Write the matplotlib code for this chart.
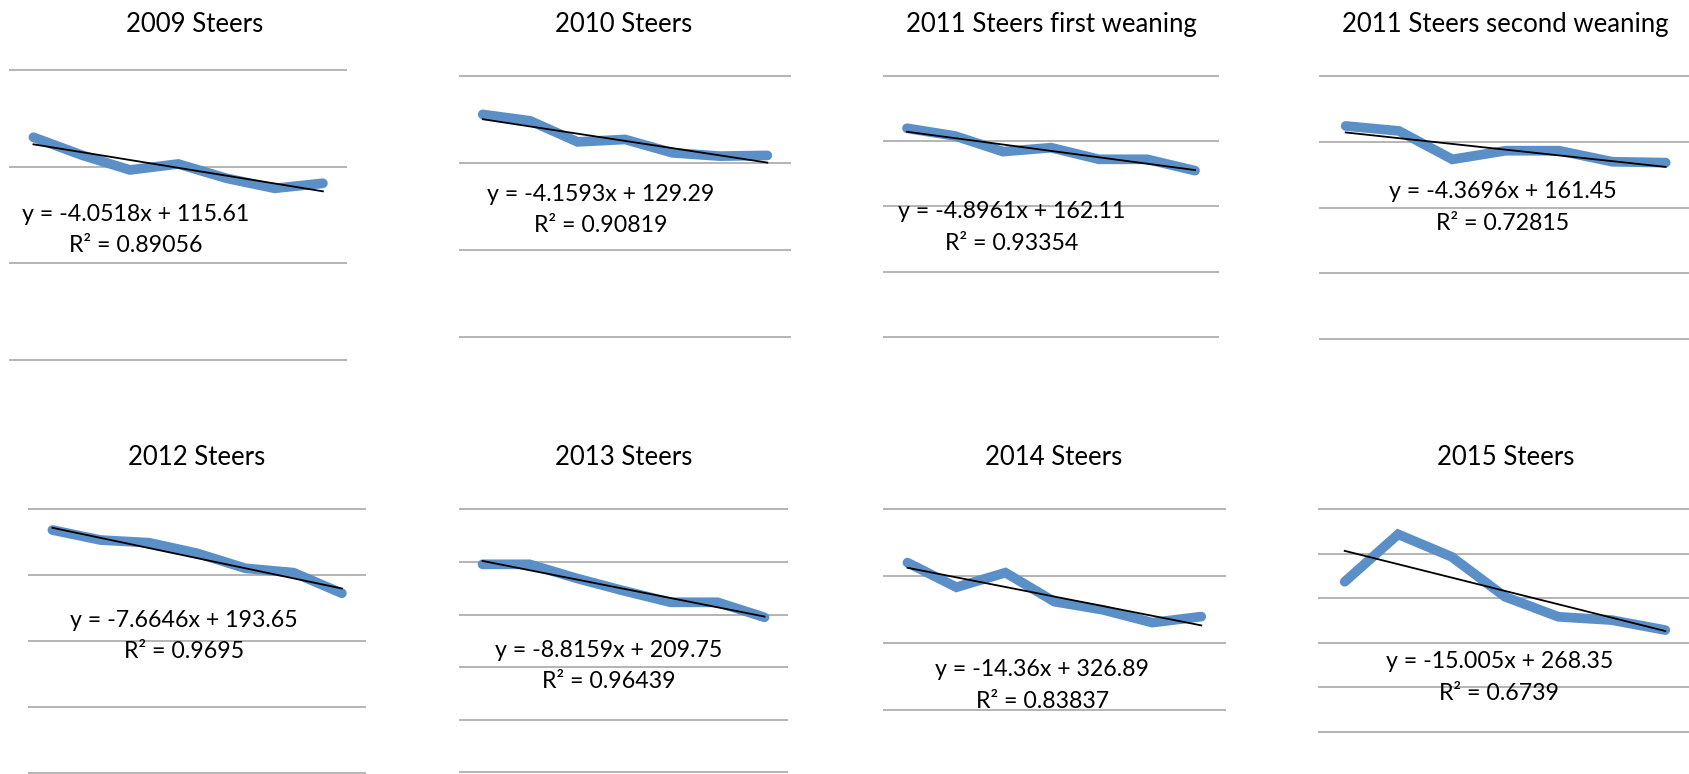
import numpy as np
import matplotlib
matplotlib.use('Agg')
import matplotlib.pyplot as plt

plt.rcParams['font.family'] = ['Lato', 'DejaVu Sans']

# Data (7 points per group)
weeks = [1, 2, 3, 4, 5, 6, 7]

titles = ['2009 Steers', '2010 Steers', '2011 Steers first weaning',
          '2011 Steers second weaning', '2012 Steers', '2013 Steers',
          '2014 Steers', '2015 Steers']

vals_2009 = [115.2, 106.0, 98.3, 101.4, 94.0, 88.8, 91.4]
vals_2010 = [127.9, 124.2, 112.1, 113.5, 105.8, 103.9, 104.3]
vals_2011a = [159.9, 154.0, 142.0, 145.0, 136.1, 136.1, 127.4]
vals_2011b = [162.0, 158.2, 136.6, 143.2, 143.2, 134.8, 134.1]
vals_2012 = [184.3, 176.7, 174.7, 166.7, 155.3, 152.0, 136.4]
vals_2013 = [197.7, 197.7, 184.4, 172.6, 161.6, 161.6, 147.3]
vals_2014 = [320.2, 283.4, 305.2, 261.9, 249.5, 230.5, 239.5]
vals_2015 = [218.7, 271.9, 246.7, 201.8, 179.3, 175.6, 164.4]

series = [vals_2009, vals_2010, vals_2011a, vals_2011b,
          vals_2012, vals_2013, vals_2014, vals_2015]

# trendline coefficients as printed on the chart
slopes = [-4.0518, -4.1593, -4.8961, -4.3696, -7.6646, -8.8159, -14.36, -15.005]
intercepts = [115.61, 129.29, 162.11, 161.45, 193.65, 209.75, 326.89, 268.35]
eq_text = ['y = -4.0518x + 115.61', 'y = -4.1593x + 129.29',
           'y = -4.8961x + 162.11', 'y = -4.3696x + 161.45',
           'y = -7.6646x + 193.65', 'y = -8.8159x + 209.75',
           'y = -14.36x + 326.89', 'y = -15.005x + 268.35']
r2_text = ['R² = 0.89056', 'R² = 0.90819', 'R² = 0.93354', 'R² = 0.72815',
           'R² = 0.9695', 'R² = 0.96439', 'R² = 0.83837', 'R² = 0.6739']

y_max = [150, 150, 200, 200, 200, 250, 400, 300]
y_step = [50, 50, 50, 50, 50, 50, 100, 50]

# Layout in pixels: x left, x right, y of top gridline, y of zero
W, H = 1690, 774
boxes = [(9.3, 347, 70, 360), (459, 791, 76, 336.7),
         (883, 1219, 76, 336.7), (1319, 1692.4, 76, 339),
         (28.3, 366, 509.3, 773.3), (459, 788, 509.3, 772.3),
         (883, 1225.7, 509.3, 776.7), (1318, 1692, 509.3, 776.5)]
title_pos = [(195, 32.3), (624, 32.3), (1051, 32.3), (1505.7, 32.3),
             (196.7, 465), (623.3, 465), (1054, 465), (1505.3, 465)]
eq_pos = [(135.5, 220.7, 252.3), (600.7, 200.7, 232.3),
          (1011.3, 218.3, 250), (1503, 198.3, 230),
          (184, 626.7, 658.3), (608.5, 656.7, 688.3),
          (1042.4, 676, 707.7), (1499.5, 668.3, 700)]

blue = '#5b8fc8'
grid_col = '#a0a0a0'

fig = plt.figure(figsize=(W / 100, H / 100), dpi=100)

for i in range(len(series)):
    x0, x1, yt, yz = boxes[i]
    top = y_max[i]
    m = 0.03 * top
    k = (yz - yt) / top
    bot_px = yz + m * k
    top_px = yt - m * k
    ax = fig.add_axes([x0 / W, 1 - bot_px / H, (x1 - x0) / W, (bot_px - top_px) / H])
    ax.set_xlim(0.5, 7.5)
    ax.set_ylim(-m, top + m)
    for v in np.arange(0, top + 1, y_step[i]):
        ax.axhline(v, color=grid_col, lw=1.1, zorder=1)
    ax.plot(weeks, series[i], color=blue, lw=7, solid_capstyle='round',
            solid_joinstyle='miter', zorder=2)
    xs = np.array([weeks[0], weeks[-1]])
    ax.plot(xs, slopes[i] * xs + intercepts[i], color='black', lw=1.3, zorder=3)
    ax.set_xticks([])
    ax.set_yticks([])
    for s in ax.spines.values():
        s.set_visible(False)
    ax.patch.set_alpha(0)

    tx, ty = title_pos[i]
    fig.text(tx / W, 1 - ty / H, titles[i], ha='center', va='baseline', fontsize=18.5)
    ex, ey1, ey2 = eq_pos[i]
    fig.text(ex / W, 1 - ey1 / H, eq_text[i], ha='center', va='baseline', fontsize=16.7)
    fig.text(ex / W, 1 - ey2 / H, r2_text[i], ha='center', va='baseline', fontsize=16.7)

plt.savefig('out.png', dpi=100)
